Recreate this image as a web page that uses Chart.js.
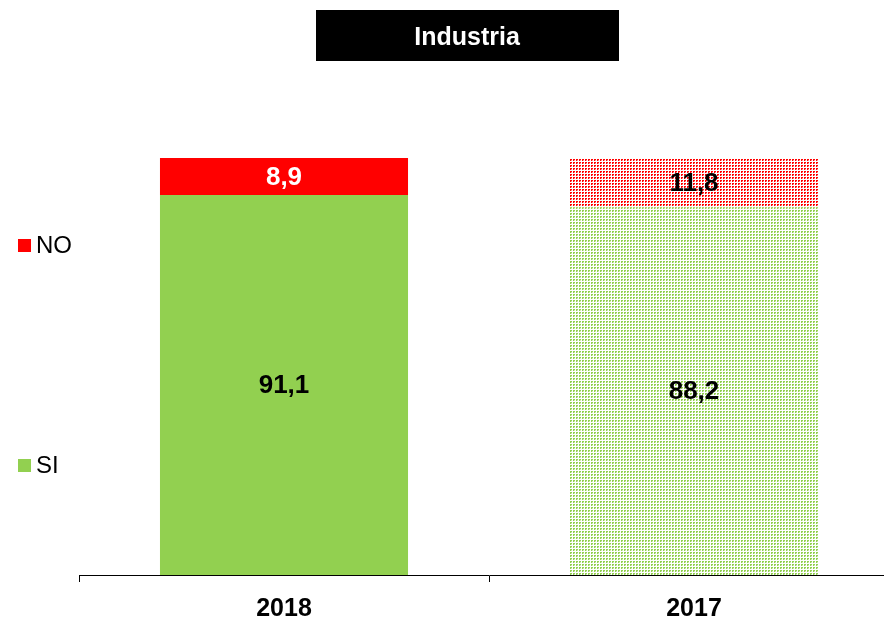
<!DOCTYPE html>
<html>
<head>
<meta charset="utf-8">
<script src="https://cdn.jsdelivr.net/npm/chart.js@4/dist/chart.umd.min.js"></script>
<style>
html, body { margin: 0; padding: 0; background: #fff; overflow: hidden; }
#wrap { width: 884px; height: 621px; overflow: hidden; }
</style>
</head>
<body>
<div id="wrap"><canvas id="myChart" width="900" height="642"></canvas></div>
<script>
var titleText = "Industria";
var years = ["2018", "2017"];
var siValues = [91.1, 88.2];
var noValues = [8.9, 11.8];

var GREEN = "#92D050";
var RED = "#FF0000";

// dotted fill for the 2017 bar
function makePattern(color){
    var c = document.createElement("canvas");
    c.width = 3; c.height = 3;
    var g = c.getContext("2d");
    g.fillStyle = "#fff";
    g.fillRect(0, 0, 3, 3);
    g.fillStyle = color;
    g.fillRect(0, 0, 2, 1);
    g.fillRect(0, 1, 1, 1);
    g.globalAlpha = 0.4;
    g.fillRect(1, 1, 1, 1);
    return g.createPattern(c, "repeat");
}

var ctx = document.getElementById("myChart").getContext("2d");

var fmt = function(v){ return v.toFixed(1).replace(".", ","); };

var extras = {
    id: "extras",
    afterDraw: function(chart){
        var c = chart.ctx;
        c.save();
        // title box
        c.fillStyle = "#000";
        c.fillRect(316, 10, 303, 51);
        c.fillStyle = "#fff";
        c.font = "bold 25px 'Liberation Sans', Arial, sans-serif";
        c.textAlign = "center";
        c.textBaseline = "middle";
        c.fillText(titleText, 467, 38);

        // value labels
        c.font = "bold 26px 'Liberation Sans', Arial, sans-serif";
        chart.data.datasets.forEach(function(ds, di){
            var meta = chart.getDatasetMeta(di);
            meta.data.forEach(function(bar, i){
                var top = Math.min(bar.y, bar.base), bot = Math.max(bar.y, bar.base);
                c.fillStyle = (di === 1 && i === 0) ? "#fff" : "#000";
                c.fillText(fmt(ds.data[i]), bar.x, (top + bot) / 2 + 1);
            });
        });

        // legend at left
        c.font = "24px 'Liberation Sans', Arial, sans-serif";
        c.textAlign = "left";
        var legendY = [245, 465];
        [1, 0].forEach(function(di, k){
            var ds = chart.data.datasets[di];
            c.fillStyle = ds.legendColor;
            c.fillRect(18, legendY[k] - 6, 13, 13);
            c.fillStyle = "#000";
            c.fillText(ds.label, 36, legendY[k] + 1);
        });
        c.restore();
    }
};

var chart = new Chart(ctx, {
    type: "bar",
    data: {
        labels: years,
        datasets: [{
            label: "SI",
            data: siValues,
            legendColor: GREEN,
            backgroundColor: [GREEN, makePattern(GREEN)]
        },{
            label: "NO",
            data: noValues,
            legendColor: RED,
            backgroundColor: [RED, makePattern(RED)]
        }]
    },
    plugins: [extras],
    options: {
        responsive: false,
        animation: false,
        layout: { padding: { top: 158, left: 79, right: 1, bottom: 6 } },
        plugins: {
            legend: { display: false },
            tooltip: { enabled: false }
        },
        datasets: {
            bar: { barPercentage: 0.605, categoryPercentage: 1 }
        },
        scales: {
            x: {
                stacked: true,
                offset: true,
                grid: {
                    offset: true,
                    drawOnChartArea: false,
                    drawTicks: true,
                    tickLength: 7,
                    color: "#000"
                },
                border: { display: true, color: "#000", width: 1 },
                ticks: {
                    color: "#000",
                    padding: 12,
                    font: { family: "'Liberation Sans Narrow', 'Arial Narrow', Arial, sans-serif", size: 25, weight: "bold" }
                }
            },
            y: {
                stacked: true,
                display: false,
                min: 0,
                max: 100
            }
        }
    }
});
</script>
</body>
</html>
